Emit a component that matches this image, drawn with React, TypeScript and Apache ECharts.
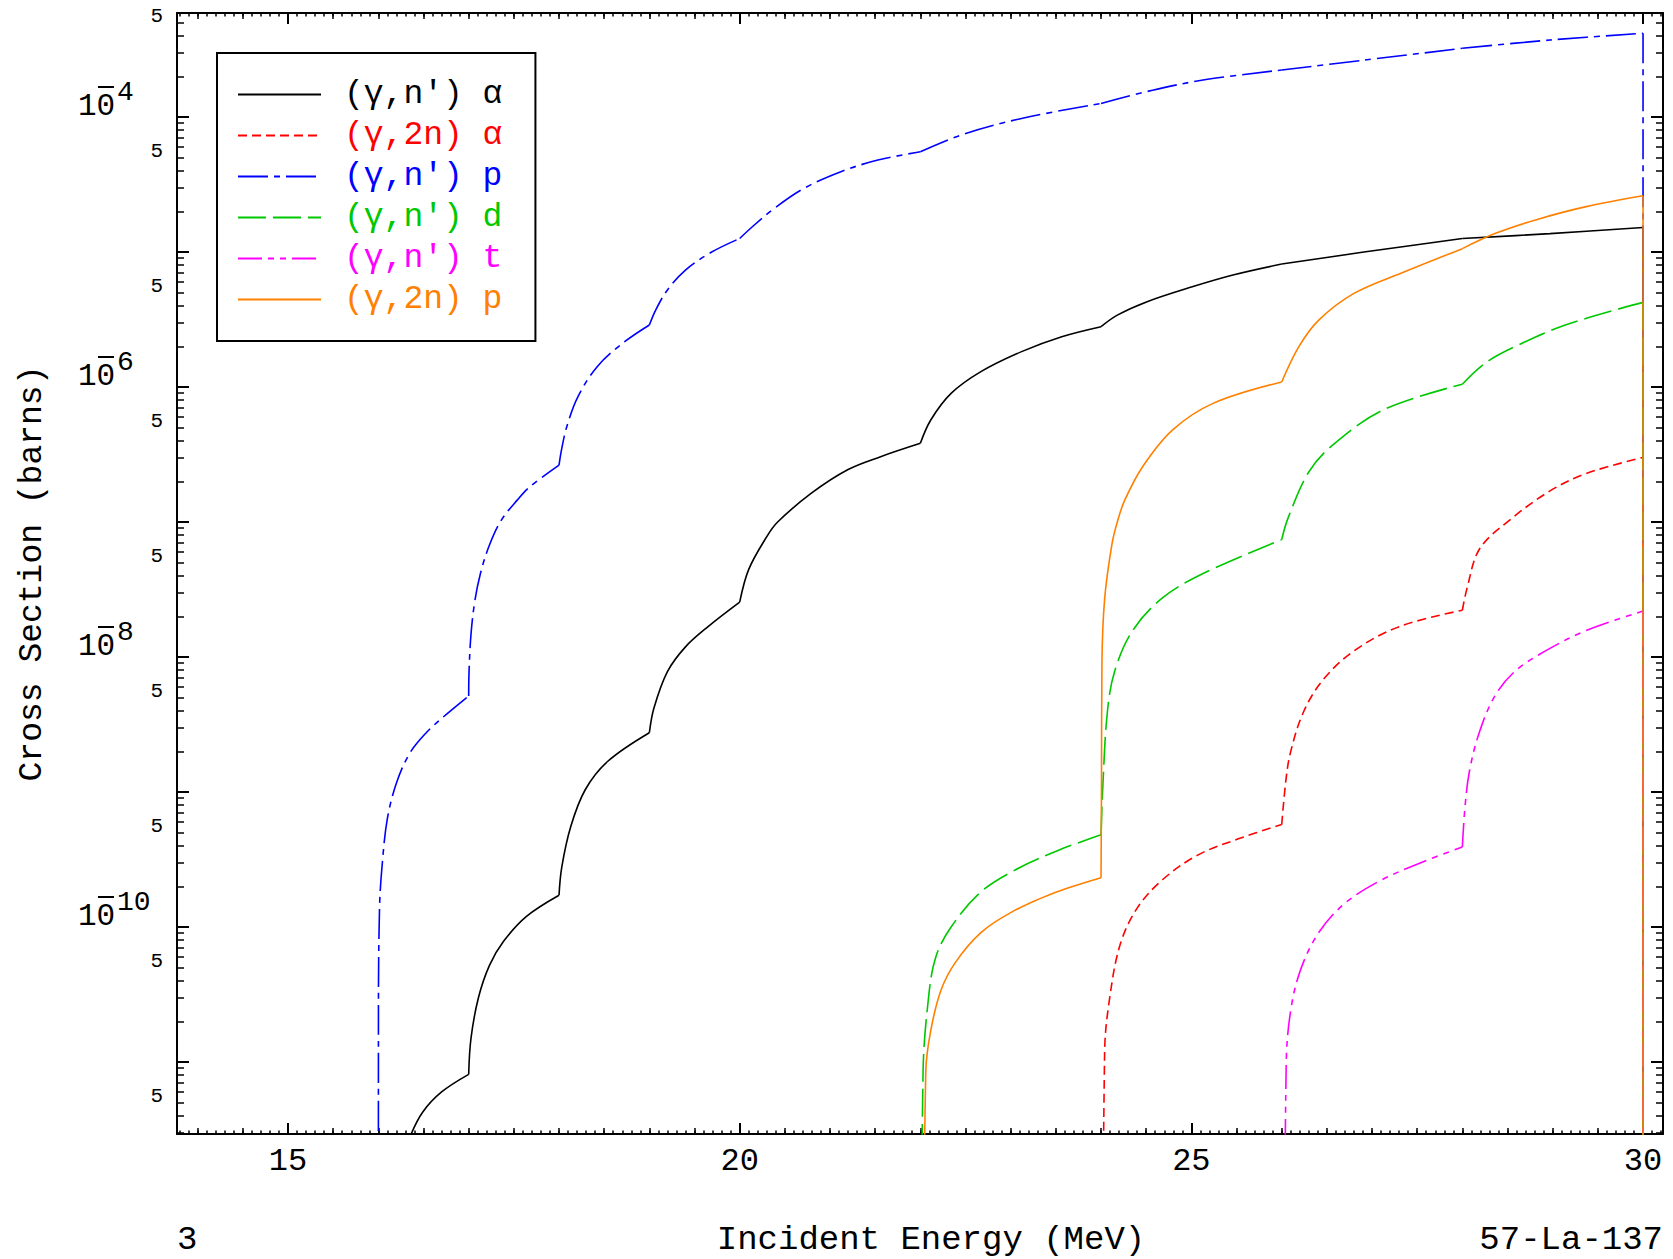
import React, { useEffect, useRef } from 'react';
import * as echarts from 'echarts';

const FONT = "'Liberation Mono', 'DejaVu Sans Mono', monospace";

const X_MIN = 13.771;
const X_MAX = 30.221;
const Y_MIN = 2.93e-12;
const Y_MAX = 5.9e-4;

const X_TITLE = 'Incident Energy (MeV)';
const Y_TITLE = 'Cross Section (barns)';
const LEFT_NOTE = '3';
const RIGHT_NOTE = '57-La-137';

const xTickLabels = [15, 20, 25, 30];
const yDecadeLabels = [-10, -8, -6, -4];
const yDecadeTicks = [-11, -10, -9, -8, -7, -6, -5, -4];
const yFiveExponents = [-12, -11, -10, -9, -8, -7, -6, -5, -4];

// how far (in decades) the minus bar and the exponent sit above the "10"
const MINUS_RAISE = 0.225;
const EXP_RAISE = 0.18;

// energies of the evaluation grid where the curves have corners
const gridEnergies = [16, 17, 18, 19, 20, 22, 24, 26, 28, 30];

const legendNames = ["(γ,n') α", '(γ,2n) α', "(γ,n') p", "(γ,n') d", "(γ,n') t", '(γ,2n) p'];
const seriesColors = ['#000000', '#ff0000', '#0000ff', '#00c800', '#ff00ff', '#ff8000'];

// [energy MeV, cross section barns]
const nAlpha: [number, number][] = [
  [16.36, 2.9e-12], [16.49, 4.25e-12], [16.7, 6.0e-12], [17.0, 8.1e-12],
  [17.025, 1.49e-11], [17.107, 2.98e-11], [17.23, 5.2e-11], [17.39, 7.9e-11], [17.64, 1.2e-10], [18.0, 1.72e-10],
  [18.03, 2.77e-10], [18.13, 5.55e-10], [18.29, 1.04e-9], [18.54, 1.69e-9], [19.0, 2.75e-9],
  [19.05, 4.18e-9], [19.2, 7.8e-9], [19.4, 1.19e-8], [19.65, 1.68e-8], [20.0, 2.55e-8],
  [20.1, 4.46e-8], [20.3, 7.8e-8], [20.42, 1.0e-7], [20.79, 1.63e-7], [21.2, 2.45e-7], [21.56, 3.05e-7], [22.0, 3.83e-7],
  [22.115, 5.7e-7], [22.34, 8.97e-7], [22.67, 1.3e-6], [23.12, 1.83e-6], [23.565, 2.36e-6], [24.0, 2.8e-6],
  [24.18, 3.41e-6], [24.51, 4.29e-6], [25.01, 5.53e-6], [25.46, 6.76e-6], [26.0, 8.15e-6],
  [26.91, 1.0e-5], [28.0, 1.26e-5], [28.97, 1.37e-5], [30.0, 1.52e-5], [30.0, 1e-14],
];

const twoNAlpha: [number, number][] = [
  [24.01, 1e-14], [24.04, 1.2e-11], [24.09, 2.8e-11], [24.21, 7.36e-11], [24.4, 1.38e-10],
  [24.68, 2.24e-10], [25.07, 3.41e-10], [25.52, 4.5e-10], [26.0, 5.74e-10],
  [26.05, 1.28e-9], [26.1, 2.0e-9], [26.24, 3.9e-9], [26.46, 6.81e-9], [26.8, 1.11e-8], [27.3, 1.68e-8], [28.0, 2.22e-8],
  [28.05, 3.2e-8], [28.19, 6.31e-8], [28.52, 1.03e-7], [28.97, 1.7e-7], [29.37, 2.29e-7], [30.0, 3.01e-7], [30.0, 1e-14],
];

const nProton: [number, number][] = [
  [16.0, 1e-14], [16.001, 2.42e-11], [16.013, 1.38e-10], [16.04, 2.77e-10], [16.1, 6.37e-10],
  [16.205, 1.19e-9], [16.35, 1.95e-9], [16.53, 2.75e-9], [16.7, 3.51e-9], [17.0, 5.15e-9],
  [17.004, 7.82e-9], [17.025, 1.46e-8], [17.066, 2.55e-8], [17.13, 4.16e-8], [17.23, 6.76e-8],
  [17.36, 1.03e-7], [17.54, 1.46e-7], [17.68, 1.83e-7], [18.0, 2.64e-7],
  [18.03, 3.5e-7], [18.09, 5.2e-7], [18.21, 8.5e-7], [18.42, 1.41e-6], [18.7, 2.1e-6], [19.0, 2.88e-6],
  [19.07, 3.72e-6], [19.2, 5.24e-6], [19.4, 7.36e-6], [19.69, 1.0e-5], [20.0, 1.26e-5],
  [20.14, 1.54e-5], [20.38, 2.1e-5], [20.71, 2.96e-5], [21.12, 3.94e-5], [21.53, 4.8e-5], [22.0, 5.53e-5],
  [22.45, 7.36e-5], [23.12, 9.77e-5], [24.0, 1.26e-4], [24.57, 1.58e-4], [25.13, 1.88e-4], [26.0, 2.23e-4],
  [26.91, 2.64e-4], [28.0, 3.23e-4], [28.97, 3.72e-4], [30.0, 4.17e-4], [30.0, 1e-14],
];

const nDeuteron: [number, number][] = [
  [22.0, 1e-14], [22.03, 8.5e-12], [22.09, 2.98e-11], [22.17, 5.98e-11], [22.34, 1.0e-10],
  [22.67, 1.82e-10], [23.06, 2.67e-10], [23.51, 3.66e-10], [24.0, 4.83e-10],
  [24.02, 1.11e-9], [24.07, 3.9e-9], [24.15, 7.82e-9], [24.35, 1.57e-8], [24.68, 2.74e-8], [25.13, 4.16e-8], [26.0, 7.41e-8],
  [26.07, 1.07e-7], [26.3, 2.35e-7], [26.58, 3.8e-7], [27.13, 6.8e-7], [28.0, 1.05e-6],
  [28.25, 1.5e-6], [28.58, 1.99e-6], [29.14, 2.88e-6], [30.0, 4.24e-6], [30.0, 1e-14],
];

const nTriton: [number, number][] = [
  [26.02, 1e-14], [26.05, 9.77e-12], [26.1, 2.42e-11], [26.21, 4.85e-11], [26.41, 9.1e-11],
  [26.69, 1.48e-10], [27.07, 2.17e-10], [27.52, 2.96e-10], [28.0, 3.92e-10],
  [28.03, 7.87e-10], [28.08, 1.45e-9], [28.19, 2.8e-9], [28.36, 5.15e-9], [28.58, 7.82e-9],
  [28.92, 1.11e-8], [29.37, 1.57e-8], [30.0, 2.19e-8], [30.0, 1e-14],
];

const twoNProton: [number, number][] = [
  [22.02, 1e-14], [22.06, 8.5e-12], [22.115, 1.71e-11], [22.23, 3.43e-11], [22.39, 5.5e-11],
  [22.67, 9.1e-11], [23.01, 1.29e-10], [23.45, 1.76e-10], [24.0, 2.32e-10],
  [24.005, 1.11e-9], [24.01, 9.0e-9], [24.04, 2.7e-8], [24.12, 6.8e-8], [24.18, 1.0e-7],
  [24.26, 1.44e-7], [24.46, 2.57e-7], [24.79, 4.8e-7], [25.24, 7.57e-7], [26.0, 1.09e-6],
  [26.19, 1.99e-6], [26.41, 3.13e-6], [26.8, 4.94e-6], [27.36, 7.14e-6], [28.0, 1.06e-5],
  [28.36, 1.37e-5], [28.81, 1.73e-5], [29.37, 2.17e-5], [30.0, 2.61e-5], [30.0, 1e-14],
];

const seriesData = [nAlpha, twoNAlpha, nProton, nDeuteron, nTriton, twoNProton];
const dashTypes: any[] = ['solid', [9, 5], [30, 6, 6, 6], [28, 7], [24, 6, 6, 6, 6, 6], 'solid'];

// split a curve at the evaluation-grid energies, so that its corners stay sharp
function splitAtCorners(pts: [number, number][]): [number, number][][] {
  const segs: [number, number][][] = [];
  let cur: [number, number][] = [];
  for (let i = 0; i < pts.length; i++) {
    const p = pts[i];
    cur.push(p);
    const isCorner = gridEnergies.some((g) => Math.abs(g - p[0]) < 1e-9);
    if (isCorner && cur.length > 1 && i < pts.length - 1) {
      segs.push(cur);
      cur = [p];
    }
  }
  if (cur.length > 1) segs.push(cur);
  return segs;
}

function range(a: number, b: number, step: number): number[] {
  const out: number[] = [];
  const n = Math.round((b - a) / step);
  for (let i = 0; i <= n; i++) out.push(Math.round((a + i * step) * 1000) / 1000);
  return out;
}

const xHalfTicks = range(14, 30, 0.5).filter((v) => v % 5 !== 0);
const xTenthTicks = range(13.8, 30.2, 0.1);

const LY_MIN = Math.log10(Y_MIN);
const LY_MAX = Math.log10(Y_MAX);
const yMinorTicks: number[] = [];
for (let n = -12; n <= -4; n++) {
  for (let k = 2; k <= 9; k++) {
    const v = n + Math.log10(k);
    if (v > LY_MIN && v < LY_MAX) yMinorTicks.push(v);
  }
}
const yFiveTicks = yFiveExponents.map((n) => n + Math.log10(5));

const black = '#000';

function xAxisDef(position: 'bottom' | 'top', kind: 'major' | 'half' | 'tenth') {
  const custom = kind === 'major' ? xTickLabels : kind === 'half' ? xHalfTicks : xTenthTicks;
  const len = kind === 'major' ? 11 : kind === 'half' ? 6 : 3.5;
  const base: any = {
    type: 'value',
    position,
    min: X_MIN,
    max: X_MAX,
    splitLine: { show: false },
    axisLine: { show: kind === 'major', onZero: false, lineStyle: { color: black, width: 2 } },
    axisTick: {
      show: true,
      inside: true,
      length: len,
      customValues: custom,
      lineStyle: { color: black, width: kind === 'major' ? 2 : 1.5 },
    },
    axisLabel: { show: false },
  };
  if (position === 'bottom' && kind === 'major') {
    base.axisLabel = {
      show: true,
      customValues: xTickLabels,
      margin: 11,
      fontSize: 32,
      fontFamily: FONT,
      color: black,
      formatter: (v: number) => String(v),
    };
    base.name = X_TITLE;
    base.nameLocation = 'middle';
    base.nameGap = 89;
    base.nameMoveOverlap = false;
    base.nameTextStyle = { fontSize: 34, fontFamily: FONT, color: black, padding: [0, 0, 0, 22] };
  }
  return base;
}

function yTickAxis(position: 'left' | 'right', kind: 'major' | 'minor') {
  const base: any = {
    type: 'value',
    position,
    min: LY_MIN,
    max: LY_MAX,
    splitLine: { show: false },
    axisLine: { show: kind === 'major', onZero: false, lineStyle: { color: black, width: 2 } },
    axisTick: {
      show: true,
      inside: true,
      length: kind === 'major' ? 12 : 7,
      customValues: kind === 'major' ? yDecadeTicks : yMinorTicks,
      lineStyle: { color: black, width: kind === 'major' ? 2 : 1.5 },
    },
    axisLabel: { show: false },
  };
  if (position === 'left' && kind === 'major') {
    base.name = Y_TITLE;
    base.nameLocation = 'middle';
    base.nameGap = 128;
    base.nameMoveOverlap = false;
    base.nameTextStyle = { fontSize: 33, fontFamily: FONT, color: black };
  }
  if (position === 'left' && kind === 'minor') {
    base.axisLabel = {
      show: true,
      customValues: yFiveTicks,
      margin: 14,
      verticalAlign: 'bottom',
      lineHeight: 12,
      fontSize: 21,
      fontFamily: FONT,
      color: black,
      formatter: () => '5',
    };
  }
  return base;
}

// decade labels: "10", a raised exponent, and the minus bar drawn over the 0
function yDecadeLabelAxis(part: 'base' | 'exp') {
  const label: any =
    part === 'base'
      ? {
          show: true,
          align: 'left',
          customValues: yDecadeLabels,
          verticalAlign: 'bottom',
          margin: 99,
          fontSize: 31,
          lineHeight: 22,
          fontFamily: FONT,
          color: black,
          formatter: () => '10',
        }
      : {
          show: true,
          align: 'left',
          customValues: yDecadeLabels.map((v) => v + EXP_RAISE),
          verticalAlign: 'middle',
          margin: 60,
          fontSize: 28,
          lineHeight: 18,
          fontFamily: FONT,
          color: black,
          formatter: (v: number) => String(Math.abs(Math.round(v))),
        };
  return {
    type: 'value',
    position: 'left',
    min: LY_MIN,
    max: LY_MAX,
    splitLine: { show: false },
    axisLine: { show: false, onZero: false },
    axisTick: { show: false },
    axisLabel: label,
  };
}

// the minus sign of each exponent, a short bar over the "0" of "10"
function yMinusBarAxis() {
  return {
    type: 'value',
    position: 'left',
    offset: 63,
    min: LY_MIN,
    max: LY_MAX,
    splitLine: { show: false },
    axisLine: { show: false, onZero: false },
    axisTick: {
      show: true,
      inside: false,
      length: 16,
      customValues: yDecadeLabels.map((v) => v + MINUS_RAISE),
      lineStyle: { color: black, width: 2 },
    },
    axisLabel: { show: false },
  };
}

export default function App() {
  const ref = useRef<HTMLDivElement>(null);
  useEffect(() => {
    if (!ref.current) return;
    const chart = echarts.init(ref.current, undefined, { renderer: 'svg' });
    const series: any[] = [];
    seriesData.forEach((d, i) => {
      splitAtCorners(d).forEach((seg) => {
        series.push({
          name: legendNames[i],
          type: 'line',
          xAxisIndex: 0,
          yAxisIndex: 0,
          data: seg,
          symbol: 'none',
          showSymbol: false,
          smooth: 0.35,
          clip: true,
          z: 2 + i,
          lineStyle: { color: seriesColors[i], width: 1.6, type: dashTypes[i] },
          itemStyle: { color: seriesColors[i] },
        });
      });
    });
    const option: any = {
      animation: false,
      backgroundColor: '#ffffff',
      textStyle: { fontFamily: FONT },
      grid: { left: 177, right: 10, top: 13, bottom: 125, containLabel: false, outerBoundsMode: 'none' },
      xAxis: [
        xAxisDef('bottom', 'major'),
        xAxisDef('bottom', 'half'),
        xAxisDef('bottom', 'tenth'),
        xAxisDef('top', 'major'),
        xAxisDef('top', 'half'),
        xAxisDef('top', 'tenth'),
      ],
      yAxis: [
        { type: 'log', logBase: 10, min: Y_MIN, max: Y_MAX, show: false, axisLine: { onZero: false } },
        yTickAxis('left', 'major'),
        yTickAxis('left', 'minor'),
        yTickAxis('right', 'major'),
        yTickAxis('right', 'minor'),
        yDecadeLabelAxis('base'),
        yDecadeLabelAxis('exp'),
        yMinusBarAxis(),
      ],
      legend: {
        orient: 'vertical',
        left: 217,
        top: 53,
        padding: [25, 33, 25, 20],
        itemWidth: 83,
        itemHeight: 14,
        itemGap: 8,
        borderColor: black,
        borderWidth: 2,
        backgroundColor: '#ffffff',
        selectedMode: false,
        itemStyle: { opacity: 0 },
        textStyle: { fontSize: 33, fontFamily: FONT, lineHeight: 30, padding: [0, 0, 0, 18] },
        data: legendNames.map((n, i) => ({ name: n, textStyle: { color: seriesColors[i] } })),
      },
      graphic: [
        {
          type: 'text',
          left: 177,
          top: 1223,
          style: { text: LEFT_NOTE, fontSize: 34, fontFamily: FONT, fill: black },
        },
        {
          type: 'text',
          right: 10,
          top: 1223,
          style: { text: RIGHT_NOTE, fontSize: 34, fontFamily: FONT, fill: black },
        },
      ],
      series,
    };
    chart.setOption(option);
    return () => chart.dispose();
  }, []);
  return (
    <div
      ref={ref}
      style={{ position: 'absolute', left: 0, top: 0, width: 1673, height: 1259, background: '#fff' }}
    />
  );
}
